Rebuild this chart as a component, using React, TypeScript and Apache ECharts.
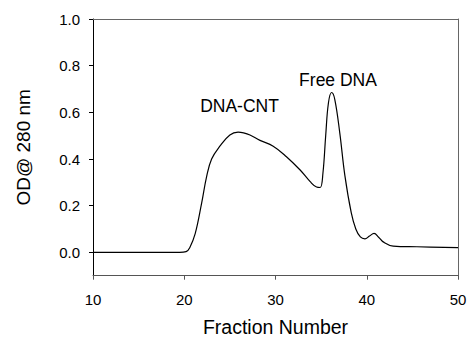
import React, { useEffect, useRef } from "react";
import * as echarts from "echarts";

const fractionNumbers = [10, 15, 19.5, 20.2, 20.6, 21.2, 21.9, 22.45, 23.0, 23.9, 25.0, 25.9, 26.5, 27.2, 28.3, 29.75, 31.2, 32.7, 33.8, 34.5, 34.9, 35.2, 35.5, 35.8, 36.15, 36.5, 37.05, 37.6, 38.3, 38.8, 39.3, 39.8, 40.3, 40.8, 41.3, 41.8, 42.9, 45.5, 50];
const odValues = [0, 0, 0, 0.003, 0.02, 0.08, 0.21, 0.325, 0.4, 0.455, 0.503, 0.515, 0.512, 0.503, 0.48, 0.455, 0.41, 0.353, 0.303, 0.28, 0.278, 0.34, 0.5, 0.64, 0.685, 0.655, 0.51, 0.33, 0.17, 0.1, 0.066, 0.058, 0.07, 0.081, 0.065, 0.045, 0.027, 0.024, 0.02];
const yTickValues = [0, 0.2, 0.4, 0.6, 0.8, 1.0];
const xTickValues = [10, 20, 30, 40, 50];
const annotations = [
  { text: "DNA-CNT", x: 239.5, y: 105.5 },
  { text: "Free DNA", x: 338, y: 79.5 },
];

const FONT = "Liberation Sans, Arial, Helvetica, sans-serif";

export default function App() {
  const ref = useRef<HTMLDivElement>(null);
  useEffect(() => {
    if (!ref.current) return;
    const chart = echarts.init(ref.current, null, { renderer: "svg" });
    const data = fractionNumbers.map((x, i) => [x, odValues[i]]);
    chart.setOption({
      animation: false,
      backgroundColor: "#ffffff",
      textStyle: { fontFamily: FONT },
      grid: { left: 93, right: 11, top: 19, bottom: 63.3, containLabel: false, outerBoundsMode: "none" },
      xAxis: [
        {
          type: "value",
          min: 10,
          max: 50,
          interval: 10,
          splitLine: { show: false },
          axisLine: { show: true, onZero: false, lineStyle: { color: "#555", width: 1 } },
          axisTick: { show: true, inside: false, length: 4, lineStyle: { color: "#555" } },
          axisLabel: {
            customValues: xTickValues,
            margin: 16,
            color: "#000",
            fontSize: 15,
            fontFamily: FONT,
          },
          name: "Fraction Number",
          nameLocation: "middle",
          nameGap: 42,
          nameTextStyle: { color: "#000", fontSize: 19.5, lineHeight: 19, fontFamily: FONT },
        },
        {
          type: "value",
          position: "top",
          min: 10,
          max: 50,
          splitLine: { show: false },
          axisLine: { show: true, onZero: false, lineStyle: { color: "#666", width: 1 } },
          axisTick: { show: false },
          axisLabel: { show: false },
        },
      ],
      yAxis: [
        {
          type: "value",
          min: -0.1,
          max: 1.0,
          splitLine: { show: false },
          axisLine: { show: true, onZero: false, lineStyle: { color: "#000", width: 1 } },
          axisTick: { show: true, inside: false, length: 4, customValues: yTickValues, lineStyle: { color: "#000" } },
          axisLabel: {
            customValues: yTickValues,
            margin: 13,
            color: "#000",
            fontSize: 15,
            fontFamily: FONT,
            formatter: (v: number) => v.toFixed(1),
          },
          name: "OD@ 280 nm",
          nameLocation: "middle",
          nameGap: 60,
          nameRotate: 90,
          nameTextStyle: { color: "#000", fontSize: 19, fontFamily: FONT },
        },
        {
          type: "value",
          position: "right",
          min: -0.1,
          max: 1.0,
          splitLine: { show: false },
          axisLine: { show: true, onZero: false, lineStyle: { color: "#666", width: 1 } },
          axisTick: { show: false },
          axisLabel: { show: false },
        },
      ],
      series: [
        {
          type: "line",
          data,
          xAxisIndex: 0,
          yAxisIndex: 0,
          showSymbol: false,
          smooth: 0.4,
          lineStyle: { color: "#000", width: 1.2 },
        },
      ],
      graphic: annotations.map((a) => ({
        type: "text",
        x: a.x,
        y: a.y,
        style: {
          text: a.text,
          fill: "#000",
          fontSize: 17.5,
          fontFamily: FONT,
          align: "center",
          verticalAlign: "middle",
        },
      })),
    });
    return () => chart.dispose();
  }, []);
  return <div ref={ref} style={{ width: 469, height: 339, position: "absolute", left: 0, top: 0 }} />;
}
